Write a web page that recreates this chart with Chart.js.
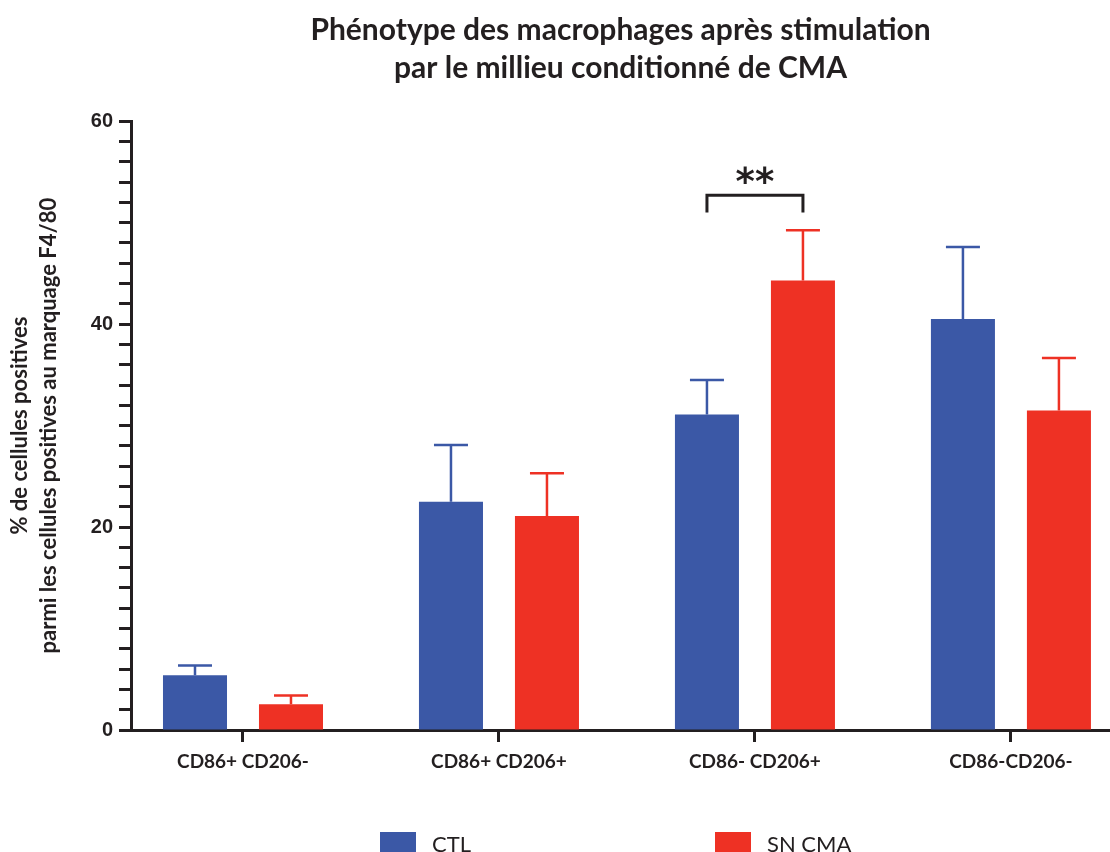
<!DOCTYPE html>
<html>
<head>
<meta charset="utf-8">
<script src="https://cdn.jsdelivr.net/npm/chart.js@4/dist/chart.umd.min.js"></script>
<style>
  html, body { margin: 0; padding: 0; background: #fff; }
  #wrap { width: 1110px; height: 852px; }
</style>
</head>
<body>
<div id="wrap"><canvas id="grafico" width="1110" height="852"></canvas></div>
<script>
// donnees
const categories = ['CD86+ CD206-', 'CD86+ CD206+', 'CD86- CD206+', 'CD86-CD206-'];
const ctlMeans = [5.4, 22.5, 31.1, 40.5];
const ctlSem = [0.95, 5.6, 3.4, 7.1];
const cmaMeans = [2.55, 21.1, 44.3, 31.5];
const cmaSem = [0.85, 4.2, 4.95, 5.15];
const seriesNames = ['CTL', 'SN CMA'];
const yTickLabels = [0, 20, 40, 60];
// crochet de significativite : entre CTL et SN CMA de la 3e categorie
const sigCategory = 2;
const sigBarY = 52.7;
const sigLegY = 51.0;
const sigLabel = '**';

const blue = '#3B58A6';
const red = '#EE3124';
const ink = '#231F20';

// barres d'erreur (vers le haut uniquement)
const errorBars = {
  id: 'errorBars',
  afterDatasetsDraw(chart) {
    const ctx = chart.ctx;
    const y = chart.scales.y;
    const sems = [ctlSem, cmaSem];
    chart.data.datasets.forEach((ds, d) => {
      const meta = chart.getDatasetMeta(d);
      meta.data.forEach((bar, i) => {
        const top = y.getPixelForValue(ds.data[i].y + sems[d][i]);
        ctx.save();
        ctx.strokeStyle = ds.backgroundColor;
        ctx.lineWidth = 2.5;
        ctx.beginPath();
        ctx.moveTo(bar.x, bar.y);
        ctx.lineTo(bar.x, top);
        ctx.moveTo(bar.x - 17, top);
        ctx.lineTo(bar.x + 17, top);
        ctx.stroke();
        ctx.restore();
      });
    });
  }
};

// crochet + etoiles
const significance = {
  id: 'significance',
  afterDatasetsDraw(chart) {
    const ctx = chart.ctx;
    const y = chart.scales.y;
    const x1 = chart.getDatasetMeta(0).data[sigCategory].x;
    const x2 = chart.getDatasetMeta(1).data[sigCategory].x;
    const yb = y.getPixelForValue(sigBarY);
    const yl = y.getPixelForValue(sigLegY);
    ctx.save();
    ctx.strokeStyle = ink;
    ctx.lineWidth = 3;
    ctx.beginPath();
    ctx.moveTo(x1, yl);
    ctx.lineTo(x1, yb);
    ctx.lineTo(x2, yb);
    ctx.lineTo(x2, yl);
    ctx.stroke();
    ctx.fillStyle = ink;
    ctx.font = 'bold 37px "DejaVu Sans"';
    ctx.textAlign = 'center';
    ctx.textBaseline = 'alphabetic';
    ctx.fillText(sigLabel, (x1 + x2) / 2, yb - 1);
    ctx.restore();
  }
};

// legende en bas, deux items bien separes
const bottomLegend = {
  id: 'bottomLegend',
  afterDraw(chart, args, opts) {
    const ctx = chart.ctx;
    ctx.save();
    ctx.font = '22px Lato';
    ctx.textBaseline = 'middle';
    chart.data.datasets.forEach((ds, d) => {
      const bx = opts.xs[d];
      ctx.fillStyle = ds.backgroundColor;
      ctx.fillRect(bx, opts.y, 36, 22);
      ctx.fillStyle = ink;
      ctx.fillText(ds.label, bx + 52, opts.y + 13);
    });
    ctx.restore();
  }
};

new Chart(document.getElementById('grafico'), {
  type: 'bar',
  data: {
    datasets: [
      { label: seriesNames[0], data: ctlMeans.map((v, i) => ({ x: i, y: v })), backgroundColor: blue },
      { label: seriesNames[1], data: cmaMeans.map((v, i) => ({ x: i, y: v })), backgroundColor: red }
    ]
  },
  options: {
    responsive: false,
    animation: false,
    devicePixelRatio: 1,
    categoryPercentage: 0.75,
    barPercentage: 0.667,
    layout: { padding: { left: 4, right: 0, top: 0, bottom: 0 } },
    plugins: {
      legend: { display: false },
      tooltip: { enabled: false },
      title: {
        display: true,
        fullSize: false,
        text: ['Phénotype des macrophages après stimulation', 'par le millieu conditionné de CMA'],
        color: ink,
        font: { family: 'Lato', size: 30, weight: 'bold', lineHeight: 1.27 },
        padding: { top: 11, bottom: 34 }
      },
      bottomLegend: { xs: [380, 715], y: 832 }
    },
    scales: {
      x: {
        type: 'linear',
        offset: false,
        min: -0.4375,
        max: 3.387,
        afterBuildTicks(scale) {
          scale.ticks = categories.map((c, i) => ({ value: i }));
        },
        afterFit(scale) { scale.height = 122; },
        border: { display: true, color: ink, width: 3 },
        grid: { offset: false, drawOnChartArea: false, drawTicks: true, tickLength: 12, tickWidth: 3, tickColor: ink },
        ticks: {
          autoSkip: false,
          maxRotation: 0,
          padding: 8,
          color: ink,
          font: { family: 'Lato', size: 19, weight: 'bold' },
          callback: (v) => categories[v]
        }
      },
      y: {
        min: 0,
        max: 60,
        afterFit(scale) { scale.width = 127; },
        border: { display: true, color: ink, width: 3 },
        grid: { drawOnChartArea: false, drawTicks: true, tickLength: 12, tickWidth: 3, tickColor: ink },
        ticks: {
          stepSize: 2,
          autoSkip: false,
          padding: 6,
          color: ink,
          font: { family: 'Liberation Sans', size: 20, weight: 'bold' },
          callback: (v) => (yTickLabels.includes(v) ? String(v) : '')
        },
        title: {
          display: true,
          text: ['% de cellules positives', 'parmi les cellules positives au marquage F4/80'],
          color: ink,
          font: { family: 'Lato', size: 22, weight: 'bold', lineHeight: 1.3 },
          padding: { top: 2, bottom: 0 }
        }
      }
    }
  },
  plugins: [errorBars, significance, bottomLegend]
});
</script>
</body>
</html>
